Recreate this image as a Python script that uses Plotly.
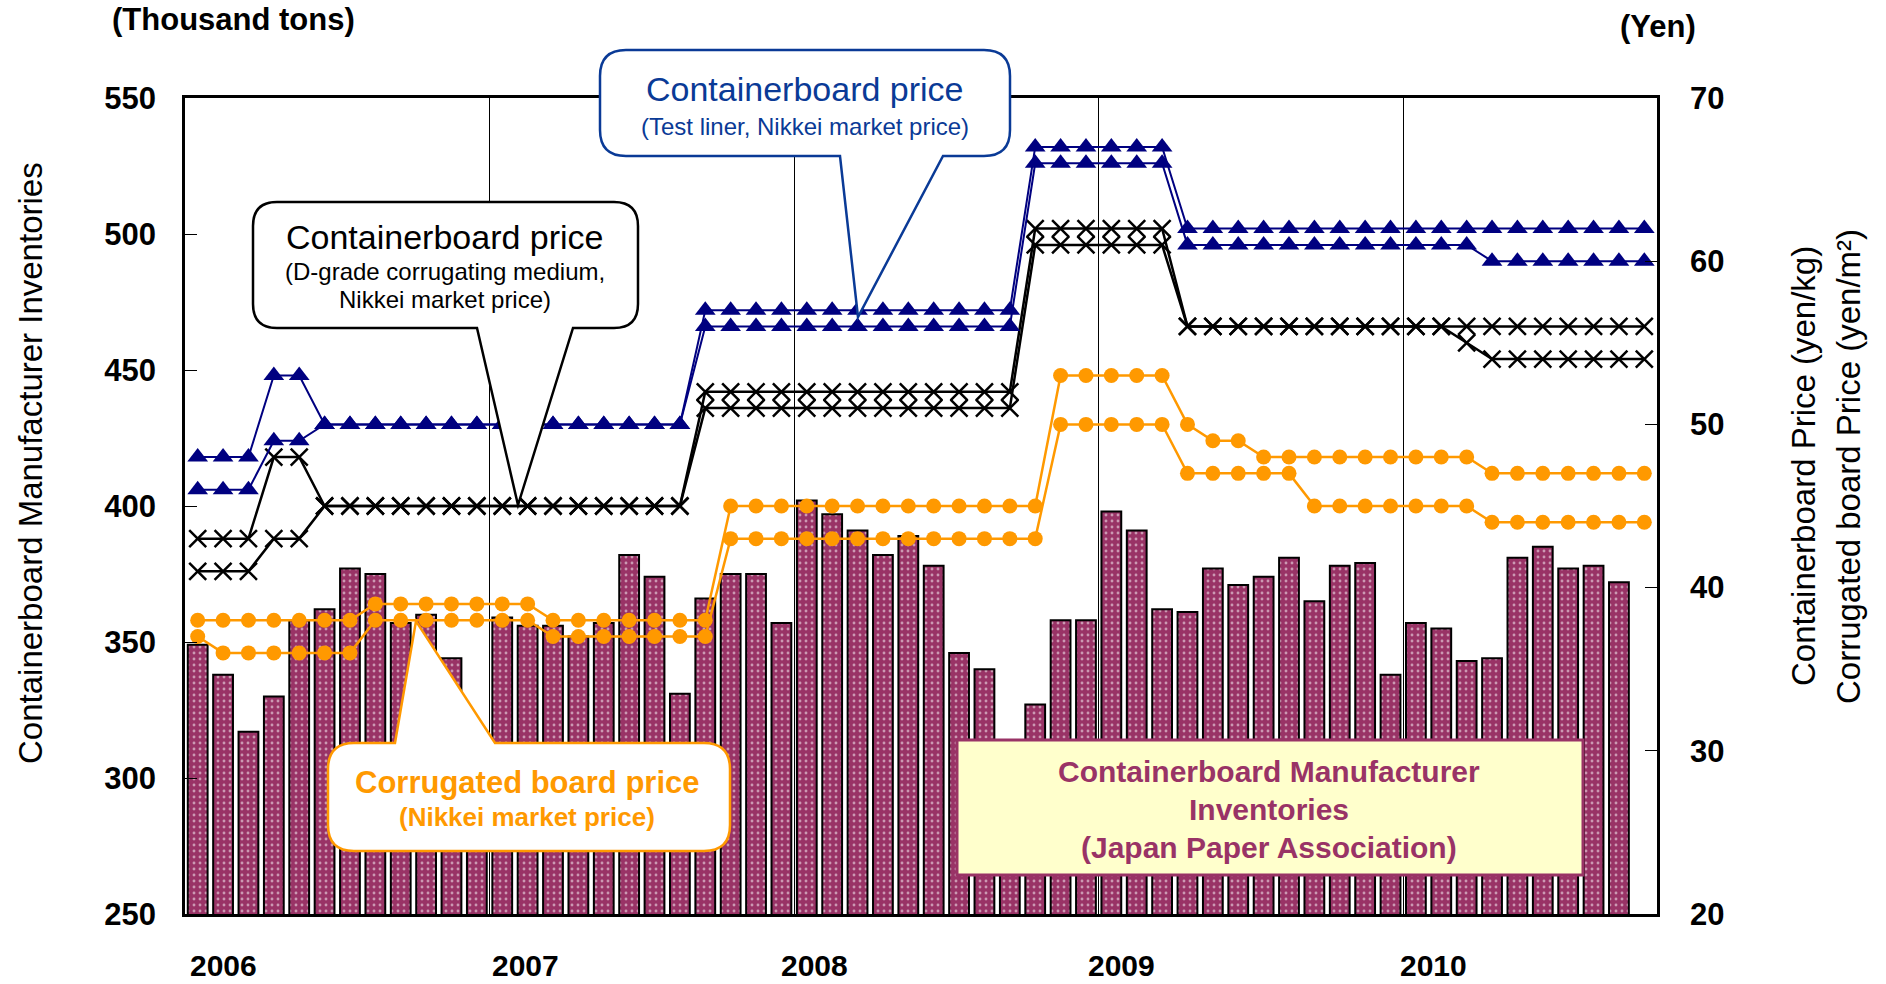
import plotly.graph_objects as go

# ---------------- data ----------------
months = [
    "2006-01", "2006-02", "2006-03", "2006-04", "2006-05", "2006-06", "2006-07", "2006-08", "2006-09", "2006-10", "2006-11", "2006-12",
    "2007-01", "2007-02", "2007-03", "2007-04", "2007-05", "2007-06", "2007-07", "2007-08", "2007-09", "2007-10", "2007-11", "2007-12",
    "2008-01", "2008-02", "2008-03", "2008-04", "2008-05", "2008-06", "2008-07", "2008-08", "2008-09", "2008-10", "2008-11", "2008-12",
    "2009-01", "2009-02", "2009-03", "2009-04", "2009-05", "2009-06", "2009-07", "2009-08", "2009-09", "2009-10", "2009-11", "2009-12",
    "2010-01", "2010-02", "2010-03", "2010-04", "2010-05", "2010-06", "2010-07", "2010-08", "2010-09", "2010-10",
]

# Containerboard manufacturer inventories (thousand tons), Jan 2006 - Sep 2010
inventory = [
    349, 338, 317, 330, 358, 362, 377, 375, 357, 360, 344, 310,
    359, 356, 356, 352, 357, 382, 374, 331, 366, 375, 375, 357,
    402, 397, 391, 382, 389, 378, 346, 340, 305, 327, 358, 358,
    398, 391, 362, 361, 377, 371, 374, 381, 365, 378, 379, 338,
    357, 355, 343, 344, 381, 385, 377, 378, 372,
]

# Test liner price (yen/kg), high / low
liner_high = [
    48, 48, 48, 53, 53, 50, 50, 50, 50, 50, 50, 50,
    50, 50, 50, 50, 50, 50, 50, 50, 57, 57, 57, 57,
    57, 57, 57, 57, 57, 57, 57, 57, 57, 67, 67, 67,
    67, 67, 67, 62, 62, 62, 62, 62, 62, 62, 62, 62,
    62, 62, 62, 62, 62, 62, 62, 62, 62, 62,
]
liner_low = [
    46, 46, 46, 49, 49, 50, 50, 50, 50, 50, 50, 50,
    50, 50, 50, 50, 50, 50, 50, 50, 56, 56, 56, 56,
    56, 56, 56, 56, 56, 56, 56, 56, 56, 66, 66, 66,
    66, 66, 66, 61, 61, 61, 61, 61, 61, 61, 61, 61,
    61, 61, 61, 60, 60, 60, 60, 60, 60, 60,
]

# D-grade corrugating medium price (yen/kg), high / low
medium_high = [
    43, 43, 43, 48, 48, 45, 45, 45, 45, 45, 45, 45,
    45, 45, 45, 45, 45, 45, 45, 45, 52, 52, 52, 52,
    52, 52, 52, 52, 52, 52, 52, 52, 52, 62, 62, 62,
    62, 62, 62, 56, 56, 56, 56, 56, 56, 56, 56, 56,
    56, 56, 56, 56, 56, 56, 56, 56, 56, 56,
]
medium_low = [
    41, 41, 41, 43, 43, 45, 45, 45, 45, 45, 45, 45,
    45, 45, 45, 45, 45, 45, 45, 45, 51, 51, 51, 51,
    51, 51, 51, 51, 51, 51, 51, 51, 51, 61, 61, 61,
    61, 61, 61, 56, 56, 56, 56, 56, 56, 56, 56, 56,
    56, 56, 55, 54, 54, 54, 54, 54, 54, 54,
]

# Corrugated board price (yen/m2), high / low
board_high = [
    38, 38, 38, 38, 38, 38, 38, 39, 39, 39, 39, 39,
    39, 39, 38, 38, 38, 38, 38, 38, 38, 45, 45, 45,
    45, 45, 45, 45, 45, 45, 45, 45, 45, 45, 53, 53,
    53, 53, 53, 50, 49, 49, 48, 48, 48, 48, 48, 48,
    48, 48, 48, 47, 47, 47, 47, 47, 47, 47,
]
board_low = [
    37, 36, 36, 36, 36, 36, 36, 38, 38, 38, 38, 38,
    38, 38, 37, 37, 37, 37, 37, 37, 37, 43, 43, 43,
    43, 43, 43, 43, 43, 43, 43, 43, 43, 43, 50, 50,
    50, 50, 50, 47, 47, 47, 47, 47, 45, 45, 45, 45,
    45, 45, 45, 44, 44, 44, 44, 44, 44, 44,
]

year_labels = ["2006", "2007", "2008", "2009", "2010"]
year_label_offsets = [1.0, 0.9, 0.3, 0.4, 0.7]   # label placement within each year

# ---------------- layout geometry (pixels) ----------------
W, H = 1886, 984
L, R, T, B = 185, 1657, 98, 914

SANS = "Liberation Sans, Arial, sans-serif"
BAR_COLOR = "#993366"
NAVY = "#000080"
ORANGE = "#FF9900"
CALLOUT_BLUE = "#0A3A96"


def px(x, y):
    return ((x - L) / (R - L), (B - y) / (B - T))


def P(x, y):
    a, b = px(x, y)
    return f"{a:.5f},{b:.5f}"


def callout_path(x0, y0, x1, y1, r, side, b0, b1, tip):
    s = f"M {P(x0 + r, y0)} "
    if side == "top":
        s += f"L {P(b0, y0)} L {P(*tip)} L {P(b1, y0)} "
    s += f"L {P(x1 - r, y0)} Q {P(x1, y0)} {P(x1, y0 + r)} "
    s += f"L {P(x1, y1 - r)} Q {P(x1, y1)} {P(x1 - r, y1)} "
    if side == "bottom":
        s += f"L {P(b1, y1)} L {P(*tip)} L {P(b0, y1)} "
    s += f"L {P(x0 + r, y1)} Q {P(x0, y1)} {P(x0, y1 - r)} "
    s += f"L {P(x0, y0 + r)} Q {P(x0, y0)} {P(x0 + r, y0)} Z"
    return s


xi = list(range(len(months)))

fig = go.Figure()

fig.add_trace(go.Bar(
    x=xi[:len(inventory)], y=inventory, yaxis="y",
    width=0.78,
    marker=dict(
        color=BAR_COLOR,
        line=dict(color="black", width=2),
        pattern=dict(shape=".", fgcolor="white", size=6, solidity=0.18),
    ),
    showlegend=False,
))

line_specs = [
    (board_high, ORANGE, "circle", 15, 2.5),
    (board_low, ORANGE, "circle", 15, 2.5),
    (medium_high, "black", "x-thin-open", 17, 2.5),
    (medium_low, "black", "x-thin-open", 17, 2.5),
    (liner_high, NAVY, "triangle-up", 18, 2),
    (liner_low, NAVY, "triangle-up", 18, 2),
]
for vals, col, sym, size, lw in line_specs:
    mk = dict(symbol=sym, size=size, color=col)
    if sym == "x-thin-open":
        mk["line"] = dict(color=col, width=2.5)
    fig.add_trace(go.Scatter(
        x=xi, y=vals, yaxis="y2", mode="lines+markers",
        line=dict(color=col, width=lw), marker=mk, showlegend=False,
    ))

# year boundaries (grid lines) and year label positions from the month list
boundaries = [i - 0.5 for i, m in enumerate(months) if m.endswith("-01") and i > 0]
year_starts = [i for i, m in enumerate(months) if m.endswith("-01")]

shapes = [
    dict(type="path", xref="paper", yref="paper", layer="above",
         path=callout_path(600, 50, 1010, 156, 26, "bottom", 840, 943, (858, 317)),
         fillcolor="white", line=dict(color=CALLOUT_BLUE, width=2.5)),
    dict(type="path", xref="paper", yref="paper", layer="above",
         path=callout_path(253, 202, 638, 328, 24, "bottom", 477, 573, (518, 505)),
         fillcolor="white", line=dict(color="black", width=2.5)),
    dict(type="path", xref="paper", yref="paper", layer="above",
         path=callout_path(328, 743, 730, 851, 26, "top", 395, 495, (416, 621)),
         fillcolor="white", line=dict(color=ORANGE, width=2.5)),
    dict(type="rect", xref="paper", yref="paper", layer="above",
         x0=px(957, 0)[0], x1=px(1583, 0)[0], y0=px(0, 875)[1], y1=px(0, 740)[1],
         fillcolor="#FFFFCC", line=dict(color=BAR_COLOR, width=3)),
]


def ann(x, y, text, size, color="black", bold=False, angle=0):
    a, b = px(x, y)
    return dict(x=a, y=b, xref="paper", yref="paper", text=text, showarrow=False,
                xanchor="center", yanchor="middle", textangle=angle,
                font=dict(family=SANS, size=size, color=color,
                          weight="bold" if bold else "normal"))


annotations = [
    ann(805, 89, "Containerboard price", 34, CALLOUT_BLUE),
    ann(805, 126, "(Test liner, Nikkei market price)", 24, CALLOUT_BLUE),
    ann(445, 237, "Containerboard price", 34),
    ann(445, 271, "(D-grade corrugating medium,", 24),
    ann(445, 299, "Nikkei market price)", 24),
    ann(527, 782, "Corrugated board price", 31, ORANGE, True),
    ann(527, 817, "(Nikkei market price)", 26, ORANGE, True),
    ann(1269, 771, "Containerboard Manufacturer", 30, BAR_COLOR, True),
    ann(1269, 809, "Inventories", 30, BAR_COLOR, True),
    ann(1269, 847, "(Japan Paper Association)", 30, BAR_COLOR, True),
    ann(233, 20, "(Thousand tons)", 31, bold=True),
    ann(1658, 26, "(Yen)", 31, bold=True),
    ann(30, 463, "Containerboard Manufacturer Inventories", 33, angle=-90),
    ann(1804, 466, "Containerboard Price (yen/kg)", 33, angle=-90),
    ann(1849, 466, "Corrugated board Price (yen/m²)", 33, angle=-90),
]
for start, off, lab in zip(year_starts, year_label_offsets, year_labels):
    annotations.append(dict(
        x=start + off, y=px(0, 965)[1], xref="x", yref="paper", text=lab, showarrow=False,
        xanchor="center", yanchor="middle",
        font=dict(family=SANS, size=30, color="black", weight="bold")))

fig.update_layout(
    width=W, height=H,
    margin=dict(l=L, r=W - R, t=T, b=H - B, pad=0),
    paper_bgcolor="white", plot_bgcolor="white",
    showlegend=False,
    bargap=0.2,
    xaxis=dict(
        range=[-0.5, len(months) - 0.5], tickvals=boundaries, showticklabels=False,
        ticks="", showgrid=True, gridcolor="black", gridwidth=1, zeroline=False,
        showline=True, linecolor="black", linewidth=2.5, mirror=True,
    ),
    yaxis=dict(
        range=[250, 550], dtick=50, tick0=250, ticks="inside", ticklen=12, tickcolor="black",
        tickwidth=1, showgrid=False, zeroline=False, showline=True, linecolor="black",
        linewidth=2.5, ticklabelstandoff=20,
        tickfont=dict(family=SANS, size=31, color="black", weight="bold"),
    ),
    yaxis2=dict(
        range=[20, 70], dtick=10, tick0=20, overlaying="y", side="right",
        ticks="inside", ticklen=12, tickcolor="black", tickwidth=1,
        showgrid=False, zeroline=False, showline=True, linecolor="black", linewidth=2.5,
        ticklabelstandoff=24,
        tickfont=dict(family=SANS, size=31, color="black", weight="bold"),
    ),
    shapes=shapes,
    annotations=annotations,
)

fig.write_html("out.html", config={"displayModeBar": False})

# remove the browser's default page margin so the figure sits at the window origin
with open("out.html", "r", encoding="utf-8") as f:
    html = f.read()
html = html.replace("<body>", '<body style="margin:0;padding:0;overflow:hidden;">', 1)
with open("out.html", "w", encoding="utf-8") as f:
    f.write(html)
